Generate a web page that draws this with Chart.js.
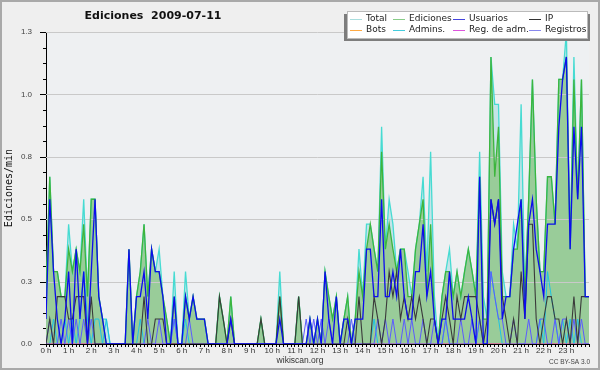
<!DOCTYPE html>
<html><head><meta charset="utf-8">
<script src="https://cdn.jsdelivr.net/npm/chart.js@4"></script>
<style>html,body{margin:0;padding:0;background:#efefef;}canvas{display:block;}</style>
</head><body>
<canvas id="c" width="600" height="370"></canvas>
<script>
// 10-minute slots, 0:00 .. 24:00 (145 points)
const hourLabels = ["0 h","1 h","2 h","3 h","4 h","5 h","6 h","7 h","8 h","9 h","10 h","11 h","12 h","13 h","14 h","15 h","16 h","17 h","18 h","19 h","20 h","21 h","22 h","23 h"];
const yTickValues = [0, 0.25, 0.5, 0.75, 1.0, 1.25];

const total = [
0.19,0.67,0.29,0.29,0.19,0.19, 0.48,0.29,0.38,0.29,0.58,0.19, 0.58,0.58,0.19,0.1,0.1,0,
0,0,0,0,0.38,0, 0.19,0.29,0.48,0.19,0.38,0.29, 0.38,0.19,0.1,0,0.29,0,
0,0.29,0.1,0.19,0.1,0.1, 0.1,0,0,0,0.19,0.1, 0,0.19,0,0,0,0,
0,0,0,0.1,0,0, 0,0,0.29,0,0,0, 0,0.19,0,0,0.1,0,
0.1,0,0.29,0.19,0.1,0.19, 0,0.1,0.19,0,0.1,0.38, 0.19,0.48,0.48,0.38,0.29,0.87,
0.38,0.58,0.48,0.29,0.38,0.38, 0.29,0.19,0.38,0.48,0.67,0.29, 0.77,0.19,0,0.19,0.29,0.38,
0.19,0.29,0.19,0.29,0.38,0.29, 0.19,0.77,0.19,0.1,1.15,0.96, 0.96,0.29,0.19,0.19,0.48,0.38,
0.96,0.19,0.58,1.06,0.58,0.29, 0.29,0.67,0.67,0.48,1.06,1.06, 1.25,0.38,1.15,0.58,1.06,0.19,
0.19];
const ediciones = [
0.19,0.67,0.29,0.29,0.19,0.19, 0.38,0.29,0.38,0.29,0.48,0.19, 0.58,0.58,0.19,0.1,0,0,
0,0,0,0,0.38,0, 0.19,0.29,0.48,0.19,0.38,0.29, 0.29,0.19,0.1,0,0.19,0,
0,0.19,0.1,0.19,0.1,0.1, 0.1,0,0,0,0.19,0.1, 0,0.19,0,0,0,0,
0,0,0,0.1,0,0, 0,0,0.19,0,0,0, 0,0.19,0,0,0.1,0,
0.1,0,0.29,0.19,0.1,0.19, 0,0.1,0.19,0,0.1,0.29, 0.19,0.38,0.48,0.38,0.29,0.77,
0.38,0.48,0.38,0.29,0.38,0.38, 0.19,0.19,0.38,0.48,0.58,0.19, 0.48,0.1,0,0.19,0.29,0.29,
0.19,0.29,0.19,0.29,0.38,0.29, 0.19,0.67,0.1,0.1,1.15,0.67, 0.87,0.19,0.19,0.19,0.38,0.38,
0.58,0.19,0.58,1.06,0.58,0.29, 0.29,0.67,0.67,0.48,1.06,1.06, 1.15,0.38,1.06,0.58,1.06,0.19,
0.19];
const usuarios = [
0.1,0.58,0.29,0.1,0,0.1, 0.29,0,0.38,0.1,0.29,0, 0.29,0.58,0.19,0.1,0,0,
0,0,0,0,0.38,0, 0.19,0.19,0.29,0.1,0.38,0.29, 0.29,0.19,0,0,0.19,0,
0,0.19,0.1,0.19,0.1,0.1, 0.1,0,0,0,0,0, 0,0.1,0,0,0,0,
0,0,0,0,0,0, 0,0,0.1,0,0,0, 0,0,0,0,0.1,0,
0.1,0,0.29,0.1,0,0.19, 0,0.1,0.1,0,0.1,0.1, 0.1,0.38,0.38,0.19,0.19,0.58,
0.19,0.19,0.29,0.19,0.38,0.19, 0.1,0.1,0.29,0.29,0.48,0.19, 0.29,0.1,0,0.1,0.1,0.29,
0.1,0.1,0.1,0.1,0.19,0.1, 0,0.67,0,0,0.58,0.48, 0.58,0.1,0.19,0.19,0.38,0.48,
0.58,0.1,0.48,0.58,0.38,0.29, 0.19,0.48,0.48,0.48,0.87,1.06, 1.15,0.38,0.87,0.58,0.87,0.19,
0.19];
const ip = [
0,0.1,0,0.19,0.19,0.19, 0.1,0.1,0.19,0.19,0.19,0, 0.19,0,0,0,0,0,
0,0,0,0,0,0, 0,0,0.19,0,0,0.1, 0.1,0.1,0,0,0,0,
0,0,0,0,0,0, 0,0,0,0,0.19,0.1, 0,0.1,0,0,0,0,
0,0,0,0.1,0,0, 0,0,0.19,0,0,0, 0,0.19,0,0,0,0,
0,0,0,0,0,0, 0,0,0.1,0,0,0.19, 0,0,0,0.19,0.1,0,
0.1,0.29,0.19,0.29,0.1,0.19, 0.1,0.19,0.1,0.19,0.1,0, 0.1,0.1,0,0.1,0.19,0.1,
0,0.19,0.1,0.19,0.19,0.19, 0.19,0.1,0,0.1,0.58,0.48, 0.58,0.19,0.1,0,0.1,0,
0.29,0.1,0.48,0.48,0.1,0, 0.1,0.19,0.19,0.1,0.1,0, 0.1,0,0.19,0,0.19,0.19,
0.19];
const bots = [
0,0,0,0,0,0, 0,0,0,0,0,0, 0,0,0,0,0,0, 0,0,0,0,0,0, 0,0,0,0,0,0, 0,0,0,0,0,0,
0,0,0,0,0,0, 0,0,0,0,0,0, 0,0,0,0,0,0, 0,0,0,0,0,0, 0,0,0,0,0,0, 0,0,0,0,0,0,
0,0,0,0,0,0, 0,0,0,0,0,0, 0,0,0,0,0,0, 0,0,0,0,0,0, 0,0,0,0,0,0, 0,0,0,0,0,0,
0,0,0,0,0,0, 0,0,0,0,0,0, 0,0,0,0,0,0, 0,0,0,0,0,0, 0,0,0,0,0,0, 0,0,0,0,0,0,
0];
const admins = [
0,0,0.1,0,0,0.1, 0,0.1,0,0.1,0.29,0.1, 0,0.1,0.1,0,0.1,0,
0,0,0,0,0,0, 0,0.1,0,0,0,0, 0,0,0,0,0.1,0,
0,0.1,0,0,0,0, 0,0,0,0,0,0, 0,0,0,0,0,0,
0,0,0,0,0,0, 0,0,0,0,0,0, 0,0,0,0,0,0,
0,0,0,0,0,0, 0,0,0,0,0,0, 0,0,0,0.1,0,0,
0,0,0,0,0,0, 0,0,0,0,0,0, 0,0,0,0,0.1,0,
0,0,0,0,0,0, 0,0.1,0,0,0.29,0.19, 0.1,0,0,0,0,0,
0,0,0,0,0,0.1, 0,0.29,0.19,0.1,0,0.1, 0,0.1,0,0.1,0,0,
0];
const regAdm = [
0,0,0,0,0,0, 0,0,0,0,0,0, 0,0,0,0,0,0, 0,0,0,0,0,0, 0,0,0,0,0,0, 0,0,0,0,0,0,
0,0,0,0,0,0, 0,0,0,0,0,0, 0,0,0,0,0,0, 0,0,0,0,0,0, 0,0,0,0,0,0, 0,0,0,0,0,0,
0,0,0,0,0,0, 0,0,0,0,0,0, 0,0,0,0,0,0, 0,0,0,0,0,0, 0,0,0,0,0,0, 0,0,0,0,0,0,
0,0,0,0,0,0, 0,0,0,0,0,0, 0,0,0,0,0,0, 0,0,0,0,0,0, 0,0,0,0,0,0, 0,0,0,0,0,0,
0];
const registros = [
0,0.1,0,0,0.1,0, 0.1,0,0.1,0,0.1,0, 0.1,0,0,0,0,0,
0,0,0,0,0,0, 0,0,0,0.1,0,0, 0.1,0,0,0,0.1,0,
0,0,0.1,0,0,0, 0,0,0,0,0,0, 0,0,0,0,0,0,
0,0,0,0,0,0, 0,0,0,0,0,0, 0,0,0,0.1,0,0.1,
0,0.1,0,0.1,0,0, 0,0,0,0.1,0,0, 0,0,0,0,0.1,0,
0.1,0,0.1,0,0,0.1, 0,0.1,0,0,0.1,0, 0,0.1,0,0,0.1,0,
0,0,0.1,0,0,0.1, 0,0.1,0,0,0.29,0.19, 0.1,0.1,0,0,0.1,0,
0,0,0.1,0,0,0.1, 0.1,0,0,0.1,0,0.1, 0.1,0,0.1,0,0.1,0,
0];

const legendItems = [
  ["Total", "#aadede"], ["Ediciones", "#88cc88"], ["Usuarios", "#4444dd"], ["IP", "#333333"],
  ["Bots", "#ffaa44"], ["Admins.", "#44ccdd"], ["Reg. de adm.", "#dd55dd"], ["Registros", "#8888ee"]
];

const pts = arr => arr.map((v, i) => ({x: i, y: v}));
const line = (label, arr, color, width, order) => ({
  label, data: pts(arr), borderColor: color, borderWidth: width, fill: false, order,
  pointRadius: 0, tension: 0
});

const deco = {
  id: 'deco',
  beforeDraw(chart) {
    const ctx = chart.ctx, a = chart.chartArea;
    ctx.save();
    ctx.fillStyle = '#efefef';
    ctx.fillRect(0, 0, 600, 370);
    ctx.fillStyle = '#eef0f2';
    ctx.fillRect(a.left, a.top, a.right - a.left, a.bottom - a.top);
    ctx.strokeStyle = '#a9a9a9';
    ctx.lineWidth = 2;
    ctx.strokeRect(1, 1, 598, 368);
    ctx.restore();
  },
  afterDatasetDraw(chart, args) {
    const ds = chart.data.datasets[args.index];
    if (!ds.gridAfter) return;
    const ctx = chart.ctx, a = chart.chartArea, y = chart.scales.y;
    ctx.save();
    ctx.strokeStyle = '#c9c9c9';
    ctx.lineWidth = 1;
    yTickValues.forEach(v => {
      if (v === 0) return;
      const py = Math.round(y.getPixelForValue(v)) + 0.5;
      ctx.beginPath(); ctx.moveTo(a.left, py); ctx.lineTo(a.right, py); ctx.stroke();
    });
    ctx.restore();
  },
  afterDraw(chart) {
    const ctx = chart.ctx, a = chart.chartArea, y = chart.scales.y;
    ctx.save();
    // y ticks (major + minor)
    ctx.strokeStyle = '#000'; ctx.lineWidth = 1;
    for (let j = 0; j <= 20; j++) {
      const v = j * 0.0625;
      const py = Math.round(y.getPixelForValue(v)) + 0.5;
      const len = (j % 4 === 0) ? 6 : 3;
      ctx.beginPath(); ctx.moveTo(a.left - len, py); ctx.lineTo(a.left, py); ctx.stroke();
    }
    // title
    ctx.fillStyle = '#111';
    ctx.font = 'bold 11px "DejaVu Sans"';
    ctx.textAlign = 'center'; ctx.textBaseline = 'middle';
    ctx.fillText('Ediciones  2009-07-11', 153, 16);
    // y title
    ctx.save();
    ctx.translate(9, 188); ctx.rotate(-Math.PI / 2);
    ctx.font = '10px "DejaVu Sans Mono"';
    ctx.fillStyle = '#111';
    ctx.fillText('Ediciones/min', 0, 0);
    ctx.restore();
    // footer
    ctx.font = '8.5px "Liberation Sans"';
    ctx.fillStyle = '#333';
    ctx.fillText('wikiscan.org', 300, 361);
    ctx.font = '6.5px "Liberation Sans"';
    ctx.textAlign = 'right';
    ctx.fillStyle = '#444';
    ctx.fillText('CC BY-SA 3.0', 590, 362);
    // legend
    ctx.fillStyle = '#7d7d7d';
    ctx.fillRect(344, 14, 246, 27);
    ctx.fillStyle = '#ffffff';
    ctx.fillRect(347, 11, 241, 28);
    ctx.strokeStyle = '#bbbbbb';
    ctx.strokeRect(347.5, 11.5, 240, 27);
    const colsSw = [350, 393, 453, 529];
    const rowsY = [18.5, 29.5];
    ctx.font = '9px "DejaVu Sans"';
    ctx.textAlign = 'left'; ctx.textBaseline = 'middle';
    legendItems.forEach((it, k) => {
      const c = k % 4, r = Math.floor(k / 4);
      const sx = colsSw[c], sy = rowsY[r];
      ctx.strokeStyle = it[1]; ctx.lineWidth = 1;
      ctx.beginPath(); ctx.moveTo(sx, Math.round(sy) + 0.5); ctx.lineTo(sx + 12, Math.round(sy) + 0.5); ctx.stroke();
      ctx.fillStyle = '#222';
      ctx.fillText(it[0], sx + 16, sy);
    });
    ctx.restore();
  }
};

new Chart(document.getElementById('c'), {
  type: 'line',
  data: {
    datasets: [
      line('Usuarios', usuarios, '#0c0cee', 1.3, 1),
      line('IP', ip, '#3a3a3a', 1.1, 2),
      line('Registros', registros, '#5b5bff', 1, 3),
      line('Reg. de adm.', regAdm, '#d040d0', 1, 4),
      line('Admins.', admins, '#1fc3e2', 1, 5),
      line('Bots', bots, '#ff9933', 1, 6),
      line('Ediciones', ediciones, '#3db53d', 1.3, 7),
      line('Total', total, '#46dbd2', 1.3, 8),
      {label: 'Ediciones área', data: pts(ediciones), fill: 'origin', backgroundColor: '#99cc99',
       borderColor: 'rgba(0,0,0,0)', borderWidth: 1, pointRadius: 0, tension: 0, order: 9, gridAfter: true},
      {label: 'Total área', data: pts(total), fill: 'origin', backgroundColor: '#c4e4e8',
       borderColor: 'rgba(0,0,0,0)', borderWidth: 1, pointRadius: 0, tension: 0, order: 10}
    ]
  },
  options: {
    responsive: false,
    animation: false,
    devicePixelRatio: 1,
    layout: {padding: {left: 0, right: 11, top: 32, bottom: 0}},
    plugins: {legend: {display: false}, tooltip: {enabled: false}, title: {display: false}},
    elements: {point: {radius: 0}, line: {tension: 0}},
    scales: {
      x: {
        type: 'linear', min: 0, max: 144, z: 1,
        afterFit(s) { s.height = 26; },
        grid: {display: true, drawOnChartArea: false, drawTicks: true, tickLength: 3, color: '#000', lineWidth: 1},
        border: {display: true, color: '#000', width: 1},
        ticks: {
          stepSize: 1, autoSkip: false, maxRotation: 0, minRotation: 0, padding: -1,
          font: {family: 'Liberation Sans', size: 8}, color: '#333',
          callback: v => (v % 6 === 0 && v < 144) ? hourLabels[v / 6] : ''
        }
      },
      y: {
        min: 0, max: 1.25, z: 1,
        afterFit(s) { s.width = 46; },
        grid: {display: false},
        border: {display: true, color: '#000', width: 1},
        ticks: {
          stepSize: 0.25, padding: 6,
          font: {family: 'Liberation Sans', size: 8}, color: '#444',
          callback: v => v.toFixed(1)
        }
      }
    }
  },
  plugins: [deco]
});
</script>
</body></html>
